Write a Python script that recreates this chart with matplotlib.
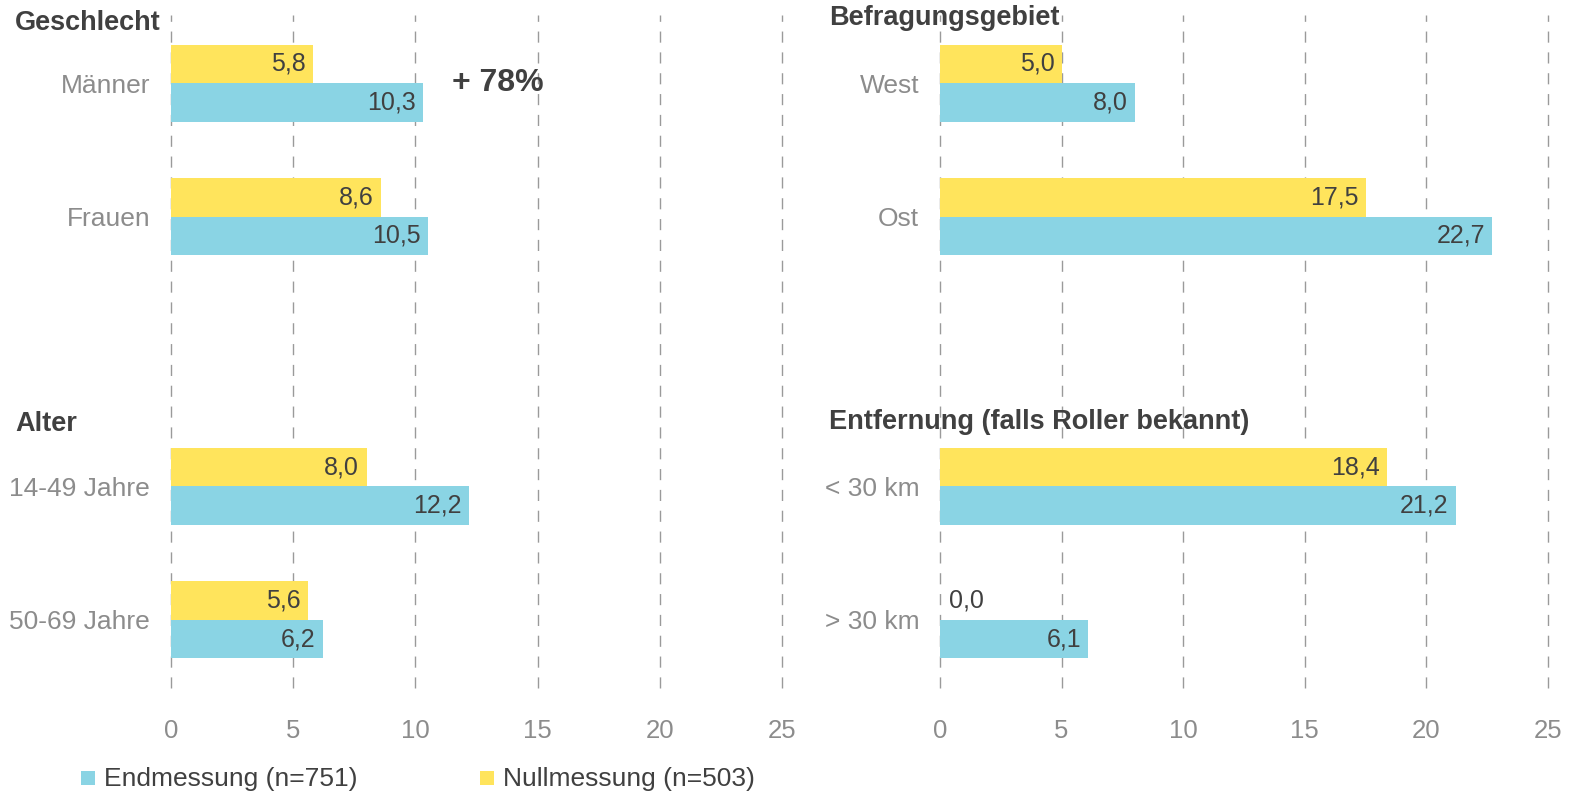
import matplotlib
matplotlib.use("Agg")
import matplotlib.pyplot as plt
from matplotlib.patches import Rectangle
import numpy as np

plt.rcParams['font.family'] = ['Liberation Sans', 'DejaVu Sans']

# Data
left_categories = ["Männer", "Frauen", "14-49 Jahre", "50-69 Jahre"]
left_endmessung = [10.3, 10.5, 12.2, 6.2]
left_nullmessung = [5.8, 8.6, 8.0, 5.6]
left_headers = ["Geschlecht", "Alter"]

right_categories = ["West", "Ost", "< 30 km", "> 30 km"]
right_endmessung = [8.0, 22.7, 21.2, 6.1]
right_nullmessung = [5.0, 17.5, 18.4, 0.0]
right_headers = ["Befragungsgebiet", "Entfernung (falls Roller bekannt)"]

xticks = [0, 5, 10, 15, 20, 25]
legend_labels = ["Endmessung (n=751)", "Nullmessung (n=503)"]
annotation = "+ 78%"

positions = [0, 1, 3.02, 4.02]

BLUE = "#8AD4E4"
YELLOW = "#FFE45C"
DARK = "#404040"
GREY = "#8C8C8C"
GRID = "#9A9A9A"

W, H = 1573, 797
fig = plt.figure(figsize=(W / 100, H / 100), dpi=100)

def fx(px):
    return px / W

def fy(py):
    return 1 - py / H

top, bottom = fy(15), fy(688)
ax_l = fig.add_axes([fx(171), bottom, fx(782) - fx(171), top - bottom])
ax_r = fig.add_axes([fx(940), bottom, fx(1548) - fx(940), top - bottom])

bh = 0.288

def fmt(v):
    return f"{v:.1f}".replace(".", ",")

for ax, cats, endm, nullm in [(ax_l, left_categories, left_endmessung, left_nullmessung),
                              (ax_r, right_categories, right_endmessung, right_nullmessung)]:
    pos = np.array(positions)
    ax.barh(pos - bh / 2, nullm, height=bh, color=YELLOW, zorder=3)
    ax.barh(pos + bh / 2, endm, height=bh, color=BLUE, zorder=3)
    for p, v in zip(pos, nullm):
        if v > 0:
            ax.text(v - 0.3, p - bh / 2, fmt(v), ha="right", va="center",
                    fontsize=18, color=DARK, zorder=4)
        else:
            ax.text(0.35, p - bh / 2, fmt(v), ha="left", va="center",
                    fontsize=18, color=DARK, zorder=4)
    for p, v in zip(pos, endm):
        ax.text(v - 0.3, p + bh / 2, fmt(v), ha="right", va="center",
                fontsize=18, color=DARK, zorder=4)
    ax.set_xlim(0, 25)
    ax.set_ylim(4.53, -0.51)
    ax.set_xticks(xticks)
    ax.set_xticklabels([str(t) for t in xticks], fontsize=18.5, color=GREY)
    ax.set_yticks(pos)
    ax.set_yticklabels(cats, fontsize=19, color=GREY)
    ax.tick_params(axis="both", length=0)
    ax.tick_params(axis="x", pad=22)
    ax.tick_params(axis="y", pad=15)
    for s in ax.spines.values():
        s.set_visible(False)
    ax.grid(axis="x", color=GRID, linestyle=(0, (8, 7)), linewidth=1.0, zorder=0)
    ax.grid(axis="y", visible=False)
    for gl in ax.get_xgridlines():
        gl.set_clip_on(False)
    ax.set_facecolor("none")

# Section headers
fig.text(fx(15), fy(23), left_headers[0], fontsize=19.5, fontweight="bold", color=DARK,
         ha="left", va="center")
fig.text(fx(15), fy(424), left_headers[1], fontsize=19.5, fontweight="bold", color=DARK,
         ha="left", va="center")
fig.text(fx(829), fy(18), right_headers[0], fontsize=19.5, fontweight="bold", color=DARK,
         ha="left", va="center")
fig.text(fx(829), fy(422), right_headers[1], fontsize=19.5, fontweight="bold", color=DARK,
         ha="left", va="center")

# Annotation
fig.text(fx(452), fy(83), annotation, fontsize=23, fontweight="bold", color=DARK,
         ha="left", va="center")

# Legend
for (x0, col, lab) in [(81, BLUE, legend_labels[0]), (480, YELLOW, legend_labels[1])]:
    fig.add_artist(Rectangle((fx(x0), fy(785)), fx(14), 14 / H, transform=fig.transFigure,
                             facecolor=col, edgecolor="none"))
    fig.text(fx(x0 + 23), fy(779), lab, fontsize=19, color=DARK, ha="left", va="center")

fig.savefig("out.png", dpi=100)
